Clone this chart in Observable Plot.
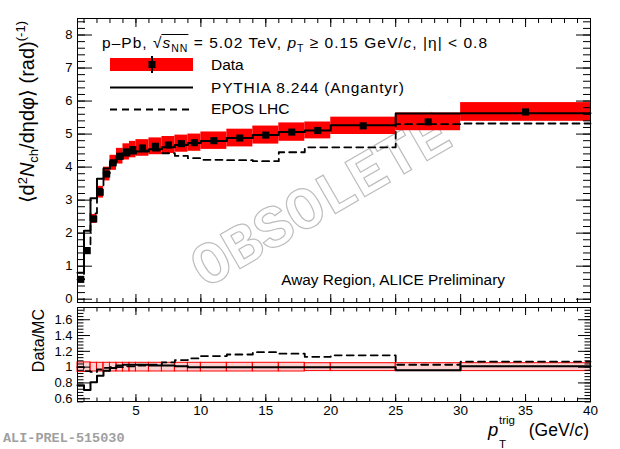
<!DOCTYPE html>
<html><head><meta charset="utf-8">
<script src="https://cdn.jsdelivr.net/npm/d3@7"></script>
<script src="https://cdn.jsdelivr.net/npm/@observablehq/plot@0.6"></script>
<style>
body{margin:0;background:#fff;}
#wrap{position:relative;width:620px;height:449px;overflow:hidden;font-family:"Liberation Sans",Arial,sans-serif;}
#wrap svg{position:absolute;left:0;top:0;background:transparent !important;overflow:visible;font-family:"Liberation Sans",Arial,sans-serif;}
</style></head><body><div id="wrap"></div>
<script>
// ---- data ----
const binLo = [0.5,1,1.5,2,2.5,3,3.5,4,4.5,5,6,7,8,9,10,12,14,16,18,20,25,30];
const binHi = [1,1.5,2,2.5,3,3.5,4,4.5,5,6,7,8,9,10,12,14,16,18,20,25,30,40];
const dataVal = [0.60,1.47,2.43,3.24,3.79,4.13,4.33,4.46,4.53,4.58,4.63,4.67,4.71,4.74,4.80,4.88,4.97,5.06,5.11,5.25,5.37,5.67];
const statErr = [0.01,0.01,0.01,0.01,0.01,0.01,0.01,0.01,0.01,0.01,0.01,0.01,0.01,0.02,0.02,0.02,0.03,0.03,0.04,0.04,0.06,0.08];
const relSys  = [0.06,0.06,0.055,0.055,0.055,0.055,0.055,0.055,0.055,0.055,0.055,0.055,0.055,0.055,0.055,0.055,0.055,0.055,0.05,0.05,0.05,0.05];
const pythia  = [0.80,2.07,3.06,3.65,3.96,4.17,4.25,4.35,4.41,4.47,4.54,4.60,4.67,4.73,4.79,4.88,4.97,5.06,5.11,5.27,5.62,5.63];
const epos    = [0.60,1.55,2.60,3.35,3.82,4.13,4.33,4.42,4.48,4.50,4.50,4.42,4.34,4.27,4.22,4.21,4.18,4.45,4.60,4.60,5.30,5.32];
const ratioPythia = [0.77,0.71,0.81,0.89,0.955,0.99,1.02,1.03,1.03,1.03,1.02,1.02,1.01,1.00,1.00,1.00,1.00,1.00,1.00,1.00,0.96,1.01];
const ratioEpos   = [1.00,0.95,0.94,0.97,0.99,1.00,1.00,1.01,1.01,1.02,1.03,1.06,1.09,1.11,1.14,1.16,1.19,1.17,1.13,1.15,1.03,1.07];
const xMajor = [5,10,15,20,25,30,35,40];
const xMinor = d3.range(1,41,1);
const yMainMajor = [0,1,2,3,4,5,6,7,8];
const yMainMinor = d3.range(0,42.5,1).map(d=>+(d*0.2).toFixed(2));
const yRatioMajor = [0.6,0.8,1,1.2,1.4,1.6];
const yRatioMinor = d3.range(14,44,1).map(d=>+(d*0.04).toFixed(2));

const table = binLo.map((lo,i)=>({lo, hi:binHi[i], c:(lo+binHi[i])/2, v:dataVal[i], s:statErr[i], rs:relSys[i]}));
function steps(vals){const p=[];binLo.forEach((lo,i)=>{p.push({x:lo,y:vals[i]});p.push({x:binHi[i],y:vals[i]});});return p;}

function tickAxes(axisFn, anchors, major, minor, majSize, minSize){
  const out=[];
  for(const a of anchors){
    out.push(axisFn(minor,{anchor:a,tickSize:-minSize,fill:"none",label:null,strokeWidth:1}));
    out.push(axisFn(major,{anchor:a,tickSize:-majSize,fill:"none",label:null,strokeWidth:1}));
  }
  return out;
}

const wrap = document.getElementById("wrap");
const NS="http://www.w3.org/2000/svg";
function el(tag,attrs,parent){const e=document.createElementNS(NS,tag);for(const k in attrs)e.setAttribute(k,attrs[k]);if(parent)parent.appendChild(e);return e;}

// watermark (behind)
const back = el("svg",{width:620,height:449},null);
wrap.appendChild(back);
const wm = el("text",{x:0,y:0,transform:"translate(322,203) rotate(-30)","text-anchor":"middle","dominant-baseline":"central",
  "font-family":"Liberation Mono, DejaVu Sans Mono, monospace","font-weight":"bold","font-size":60,fill:"none",stroke:"#bdbdbd","stroke-width":1.2},back);
wm.textContent="OBSOLETE";

const main = Plot.plot({
  width:620,height:449,marginLeft:77,marginRight:30,marginTop:18,marginBottom:147,
  x:{domain:[0.5,40],label:null},
  y:{domain:[-0.1,8.5],label:null},
  marks:[
    Plot.rect(table,{x1:"lo",x2:"hi",y1:d=>d.v*(1-d.rs),y2:d=>d.v*(1+d.rs),fill:"#ff0000"}),
    Plot.line(steps(epos),{x:"x",y:"y",stroke:"black",strokeWidth:1.8,strokeDasharray:"7,5"}),
    Plot.line(steps(pythia),{x:"x",y:"y",stroke:"black",strokeWidth:2}),
    Plot.ruleX(table,{x:"c",y1:d=>d.v-d.s,y2:d=>d.v+d.s,stroke:"black",strokeWidth:2}),
    Plot.dot(table,{x:"c",y:"v",symbol:"square",fill:"black",stroke:"none",r:4}),
    Plot.frame({stroke:"black",strokeWidth:1}),
    ...tickAxes(Plot.axisY,["left","right"],yMainMajor,yMainMinor,15,8),
    ...tickAxes(Plot.axisX,["top","bottom"],xMajor,xMinor,8,4),
    Plot.axisY(yMainMajor,{anchor:"left",tickSize:0,tickPadding:5,fontSize:13,label:null,fill:"black"})
  ]
});
wrap.appendChild(main);

const ratio = Plot.plot({
  width:620,height:449,marginLeft:77,marginRight:30,marginTop:307,marginBottom:48,
  x:{domain:[0.5,40],label:null},
  y:{domain:[0.565,1.755],label:null},
  marks:[
    Plot.rect(table,{x1:"lo",x2:"hi",y1:d=>1-d.rs,y2:d=>1+d.rs,fill:"#ff0000",fillOpacity:0.18,stroke:"#ff0000",strokeWidth:1}),
    Plot.line(steps(ratioEpos),{x:"x",y:"y",stroke:"black",strokeWidth:1.8,strokeDasharray:"7,5"}),
    Plot.line(steps(ratioPythia),{x:"x",y:"y",stroke:"black",strokeWidth:2}),
    Plot.frame({stroke:"black",strokeWidth:1}),
    ...tickAxes(Plot.axisY,["left","right"],yRatioMajor,yRatioMinor,13,6.5),
    ...tickAxes(Plot.axisX,["top","bottom"],xMajor,xMinor,7,3.5),
    Plot.axisY(yRatioMajor,{anchor:"left",tickSize:0,tickPadding:5,fontSize:13,label:null,fill:"black",tickFormat:d=>String(+d.toFixed(1))}),
    Plot.axisX(xMajor,{anchor:"bottom",tickSize:0,tickPadding:4,fontSize:13.5,label:null,fill:"black"})
  ]
});
wrap.appendChild(ratio);

// ---- front overlay: texts and legend ----
const fr = el("svg",{width:620,height:449},null);
wrap.appendChild(fr);
const F="Liberation Sans, Arial, sans-serif";
function rich(x,y,parts,attrs){
  const t=el("text",Object.assign({x,y,"font-family":F,fill:"black"},attrs||{}),fr);
  const spans=[];
  for(const p of parts){const s=el("tspan",{},t);s.textContent=p.t;if(p.i)s.setAttribute("font-style","italic");if(p.fs)s.setAttribute("font-size",p.fs);if(p.dy)s.setAttribute("dy",p.dy);spans.push(s);}
  return {t,spans};
}
// header
const hdr = rich(102,48,[
  {t:"p–Pb, √"},{t:"s",i:1},{t:"NN",fs:10.5,dy:4},{t:" =  5.02 TeV, ",dy:-4},{t:"p",i:1},{t:"T",fs:10.5,dy:4},
  {t:" ≥ 0.15 GeV/",dy:-4},{t:"c",i:1},{t:", |η| < 0.8"}],{"font-size":15.5,textLength:385,lengthAdjust:"spacing"});
{
  const sx=hdr.spans[1].getStartPositionOfChar(0).x, ex=hdr.spans[2].getEndPositionOfChar(1).x;
  el("line",{x1:sx-1,x2:ex+1,y1:34.5,y2:34.5,stroke:"black","stroke-width":1},fr);
}
// legend
el("rect",{x:110,y:58,width:83,height:13,fill:"#ff0000"},fr);
el("line",{x1:152,x2:152,y1:56,y2:73,stroke:"black","stroke-width":2},fr);
el("rect",{x:148.5,y:61,width:7,height:7,fill:"black"},fr);
el("line",{x1:110,x2:193,y1:87.5,y2:87.5,stroke:"black","stroke-width":2},fr);
el("line",{x1:110,x2:193,y1:109.5,y2:109.5,stroke:"black","stroke-width":1.8,"stroke-dasharray":"7,5"},fr);
rich(211,70,[{t:"Data"}],{"font-size":15.5});
rich(211,93,[{t:"PYTHIA 8.244 (Angantyr)"}],{"font-size":15.5,textLength:193,lengthAdjust:"spacing"});
rich(211,114,[{t:"EPOS LHC"}],{"font-size":15.5});
// region label
rich(505,285,[{t:"Away Region, ALICE Preliminary"}],{"font-size":15.4,"text-anchor":"end"});
// y titles
rich(0,0,[{t:"⟨d"},{t:"2",fs:13,dy:-7},{t:"N",i:1,dy:7},{t:"ch",fs:13,dy:4},{t:"/dηdφ⟩ (rad)",dy:-4},{t:"(-1)",fs:13,dy:-9}],
  {"font-size":20,"text-anchor":"end",transform:"translate(34,21) rotate(-90)"});
rich(0,0,[{t:"Data/MC"}],{"font-size":16,"text-anchor":"end",transform:"translate(44,309) rotate(-90)"});
// x title
rich(488,436,[{t:"p",i:1}],{"font-size":18.5});
rich(499,448,[{t:"T"}],{"font-size":11.5});
rich(499,424,[{t:"trig"}],{"font-size":11.5});
rich(589,436,[{t:"(GeV/"},{t:"c",i:1},{t:")"}],{"font-size":17.5,"text-anchor":"end"});
// id
rich(3,442,[{t:"ALI-PREL-515030"}],{"font-size":13.5,"font-family":"Liberation Mono, DejaVu Sans Mono, monospace","font-weight":"bold",fill:"#a0a0a0"});
</script></body></html>
